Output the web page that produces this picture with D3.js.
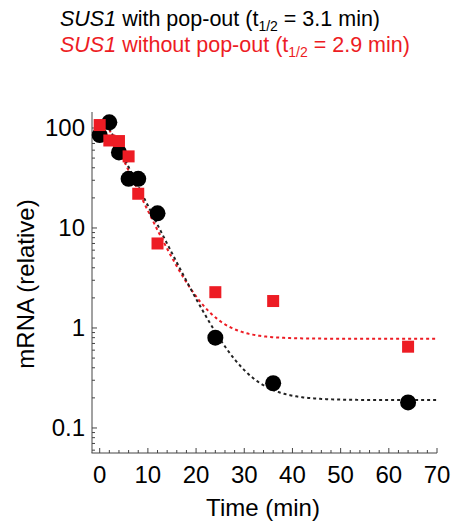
<!DOCTYPE html>
<html>
<head>
<meta charset="utf-8">
<script src="https://cdn.jsdelivr.net/npm/d3@7"></script>
<style>
  body { margin: 0; background: #fff; }
  text { font-family: "Liberation Sans", Arial, sans-serif; }
</style>
</head>
<body>
<div id="fig"></div>
<script>
let width = 451;
let height = 522;
let red = '#ed1c24';

// measured points (time in min, relative mRNA)
let timesWith = [0, 2, 4, 6, 8, 12, 24, 36, 64];
let valuesWith = [85, 114, 57, 31, 31, 14, 0.8, 0.28, 0.18];
let timesWithout = [0, 2, 4, 6, 8, 12, 24, 36, 64];
let valuesWithout = [107, 75, 74, 52, 22, 7, 2.28, 1.86, 0.65];

// fit parameters: amplitude, half-life (min), plateau
let fitWith = {amp: 155, half: 3.1, base: 0.19};
let fitWithout = {amp: 154, half: 2.9, base: 0.78};

let xTicks = [0, 10, 20, 30, 40, 50, 60, 70];
let yTicks = [0.1, 1, 10, 100];

let svg = d3.select('#fig').append('svg')
    .attr('width', width)
    .attr('height', height);

let x = d3.scaleLinear().domain([-1.7, 70]).range([91.5, 437]);
let y = d3.scaleLog().domain([0.0562, 144.5]).range([453, 112]);

// title
let title = svg.append('g');
function titleLine(ypos, color, half) {
    let t = title.append('text')
        .attr('x', 60).attr('y', ypos)
        .attr('fill', color)
        .style('font-size', '21.5px');
    t.append('tspan').style('font-style', 'italic').text('SUS1');
    t.append('tspan').text(half.label + ' (t');
    t.append('tspan').attr('dy', 5).style('font-size', '14px').text('1/2');
    t.append('tspan').attr('dy', -5).text(` = ${half.value} min)`);
}
titleLine(26, '#000', {label: ' with pop-out', value: fitWith.half.toFixed(1)});
titleLine(52, red, {label: ' without pop-out', value: fitWithout.half.toFixed(1)});

// axes
let xAxis = svg.append('g').attr('transform', `translate(0,453)`);
xAxis.append('line')
    .attr('x1', x.range()[0]).attr('x2', x.range()[1])
    .attr('stroke', '#444').attr('stroke-width', 1);
let xMinor = d3.range(0, 71, 2);
xAxis.selectAll('.minor').data(xMinor).join('line')
    .attr('x1', d => x(d)).attr('x2', d => x(d))
    .attr('y1', 0).attr('y2', d => d % 10 === 0 ? -5 : -3)
    .attr('stroke', '#444');
xAxis.selectAll('text').data(xTicks).join('text')
    .attr('x', d => x(d)).attr('y', 30)
    .attr('text-anchor', 'middle')
    .style('font-size', '24px')
    .text(d => d);

let yAxis = svg.append('g').attr('transform', `translate(92,0)`);
yAxis.append('line')
    .attr('y1', y.range()[0]).attr('y2', y.range()[1])
    .attr('stroke', '#444');
let yMinor = [];
[0.01, 0.1, 1, 10, 100].forEach(dec => {
    for (let m = 1; m < 10; m++) {
        let v = dec * m;
        if (v >= y.domain()[0] && v <= y.domain()[1]) yMinor.push(v);
    }
});
yAxis.selectAll('.ytick').data(yMinor).join('line')
    .attr('y1', d => y(d)).attr('y2', d => y(d))
    .attr('x1', 0).attr('x2', d => yTicks.includes(d) ? 5 : 3)
    .attr('stroke', '#444');
yAxis.selectAll('text').data(yTicks).join('text')
    .attr('x', -7).attr('y', d => y(d))
    .attr('dy', '0.35em')
    .attr('text-anchor', 'end')
    .style('font-size', '24px')
    .text(d => d);

svg.append('text')
    .attr('x', 263).attr('y', 516)
    .attr('text-anchor', 'middle')
    .style('font-size', '24px')
    .text('Time (min)');

svg.append('text')
    .attr('transform', 'translate(34,284) rotate(-90)')
    .attr('text-anchor', 'middle')
    .style('font-size', '24px')
    .text('mRNA (relative)');

// fit curves
function fitCurve(p) {
    let k = Math.LN2 / p.half;
    return d3.range(2, 70.01, 0.25).map(t => [t, p.amp * Math.exp(-k * t) + p.base]);
}
let line = d3.line().x(d => x(d[0])).y(d => y(d[1]));

svg.append('path')
    .attr('d', line(fitCurve(fitWithout)))
    .attr('fill', 'none')
    .attr('stroke', red)
    .attr('stroke-width', 2)
    .attr('stroke-dasharray', '3,3');

svg.append('path')
    .attr('d', line(fitCurve(fitWith)))
    .attr('fill', 'none')
    .attr('stroke', '#222')
    .attr('stroke-width', 2)
    .attr('stroke-dasharray', '3,3');

// points
svg.append('g').selectAll('circle')
    .data(d3.zip(timesWith, valuesWith))
    .join('circle')
    .attr('cx', d => x(d[0]))
    .attr('cy', d => y(d[1]))
    .attr('r', 8)
    .attr('fill', '#000');

let sq = 12;
svg.append('g').selectAll('rect')
    .data(d3.zip(timesWithout, valuesWithout))
    .join('rect')
    .attr('x', d => x(d[0]) - sq / 2)
    .attr('y', d => y(d[1]) - sq / 2)
    .attr('width', sq)
    .attr('height', sq)
    .attr('fill', red);
</script>
</body>
</html>
